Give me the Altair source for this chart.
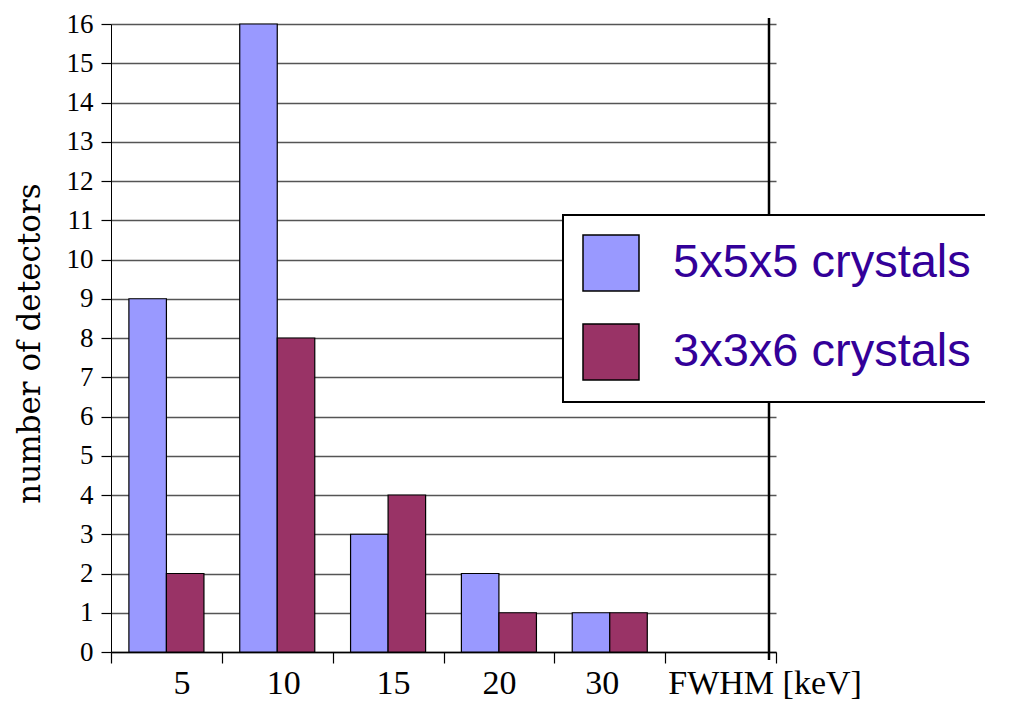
import altair as alt
import pandas as pd

categories = ["5", "10", "15", "20", "30", "FWHM [keV]"]
series = ["5x5x5 crystals", "3x3x6 crystals"]
counts_5x5x5 = [9, 16, 3, 2, 1]
counts_3x3x6 = [2, 8, 4, 1, 1]
y_ticks = list(range(0, 17))
colors = ["#9999FF", "#993366"]

rows = []
for c, v in zip(categories, counts_5x5x5):
    rows.append({"fwhm": c, "series": series[0], "count": v})
for c, v in zip(categories, counts_3x3x6):
    rows.append({"fwhm": c, "series": series[1], "count": v})
df = pd.DataFrame(rows)

x_label_offset = {
    "condition": [
        {"test": "datum.value == '5'", "value": 15},
        {"test": "datum.value == '10'", "value": 6},
        {"test": "datum.value == '15'", "value": 5},
        {"test": "datum.value == '30'", "value": -8},
        {"test": "datum.value == 'FWHM [keV]'", "value": 44},
    ],
    "value": 0,
}

bars = alt.Chart(df).mark_bar(stroke="black", strokeWidth=1.2).encode(
    x=alt.X(
        "fwhm:N",
        scale=alt.Scale(domain=categories, paddingInner=0, paddingOuter=0),
        axis=alt.Axis(
            title=None,
            labelAngle=0,
            tickBand="extent",
            domainColor="black",
            domainWidth=1.5,
            tickColor="black",
            tickWidth=1.2,
            tickSize=11,
            labelFont="Liberation Serif",
            labelFontSize=34,
            labelColor="black",
            labelPadding=3,
            labelLimit=400,
            labelOffset=x_label_offset,
            grid=False,
        ),
    ),
    xOffset=alt.XOffset(
        "series:N",
        scale=alt.Scale(domain=series, paddingInner=0, paddingOuter=0.477),
    ),
    y=alt.Y(
        "count:Q",
        scale=alt.Scale(domain=[0, 16], nice=False),
        axis=alt.Axis(
            title="number of detectors",
            values=y_ticks,
            domainColor="black",
            domainWidth=1,
            grid=True,
            gridColor="#555555",
            gridWidth=1.5,
            tickColor="black",
            tickWidth=1.2,
            tickSize=10,
            labelPadding=8,
            labelFont="Liberation Serif",
            labelFontSize=27,
            labelColor="black",
            titleFont="DejaVu Serif",
            titleFontSize=31,
            titleFontWeight="normal",
            titleColor="black",
            titlePadding=20,
            titleY=319,
        ),
    ),
    color=alt.Color(
        "series:N",
        scale=alt.Scale(domain=series, range=colors),
        legend=alt.Legend(
            title=None,
            orient="none",
            legendX=452,
            legendY=191,
            padding=19,
            fillColor="white",
            strokeColor="black",
            symbolType="square",
            symbolSize=3136,
            symbolStrokeColor="black",
            symbolStrokeWidth=1.5,
            symbolOpacity=1,
            labelFont="Liberation Sans",
            labelFontSize=47,
            labelColor="#330099",
            labelOffset=33,
            labelLimit=900,
            rowPadding=27,
        ),
    ),
)

rule = alt.Chart(pd.DataFrame({"a": [0]})).mark_rule(
    color="black", strokeWidth=2.5
).encode(x=alt.value(658), y=alt.value(-6), y2=alt.value(636))

chart = (
    alt.layer(bars, rule)
    .properties(
        width=665,
        height=628,
        autosize=alt.AutoSizeParams(type="none"),
        padding={"left": 103, "top": 16, "right": 209, "bottom": 52},
    )
    .configure_view(strokeWidth=0)
    .configure_legend(strokeWidth=2)
)

chart.save("out.html", embed_options={"renderer": "svg", "actions": False})
